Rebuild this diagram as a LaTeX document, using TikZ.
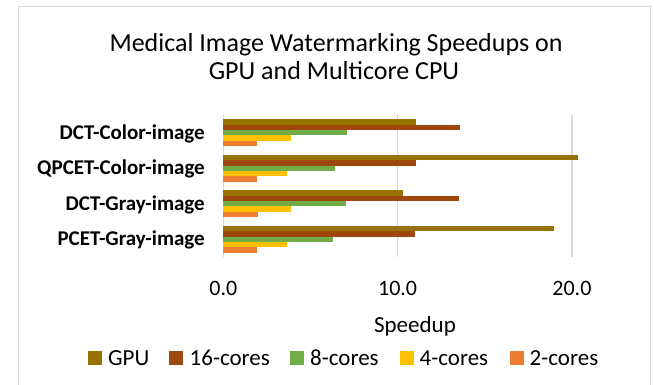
\documentclass[tikz,border=0pt]{standalone}
\usepackage{fontspec}
\setmainfont{Carlito}
\definecolor{gpu}{HTML}{997300}
\definecolor{c16}{HTML}{9E480E}
\definecolor{c8}{HTML}{70AD47}
\definecolor{c4}{HTML}{FFC000}
\definecolor{c2}{HTML}{ED7D31}
\definecolor{gridgray}{HTML}{D9D9D9}
% one group of five bars: #1 = category index (0 = top), #2..#6 = values
\newcommand\bargroup[6]{%
  \foreach \v/\c [count=\k from 0] in {#2/gpu,#3/c16,#4/c8,#5/c4,#6/c2}{%
    \fill[\c] (\xzero,{115+35.5*#1+4.4+5.35*\k}) rectangle
      ({\xzero+\xunit*\v},{115+35.5*#1+4.4+5.35*(\k+1)});
  }%
}
\begin{document}
\begin{tikzpicture}[x=1pt,y=-1pt,
  catlabel/.style={anchor=base east,inner sep=0pt,font=\fontsize{21}{24}\selectfont\bfseries},
  ticklabel/.style={anchor=base,inner sep=0pt,font=\fontsize{22}{26}\selectfont},
  titletext/.style={anchor=base,inner sep=0pt,font=\fontsize{26}{30}\selectfont},
  legtext/.style={anchor=base west,inner sep=0pt,font=\fontsize{23}{26}\selectfont},
  legsq/.style={minimum size=13.5pt,inner sep=0pt,anchor=south west},
  gridline/.style={gridgray,line width=1.2pt}]
\pgfmathsetmacro\xzero{223.3}
\pgfmathsetmacro\xunit{17.43}
\useasboundingbox (0,0) rectangle (654,385);
\fill[white] (0,0) rectangle (654,385);
% chart frame
\draw[gridgray,line width=1pt] (18,400) -- (18,7) -- (650,7) -- (650,400);
% title
\node[titletext] (title1) at (336,52) {Medical Image Watermarking Speedups on};
\node[titletext] (title2) at (334,79.5) {GPU and Multicore CPU};
% vertical gridlines
\foreach \g [count=\n] in {0,10,20}{
  \draw[gridline] ({\xzero+\xunit*\g},115) -- ({\xzero+\xunit*\g},257);
}
% bars
\bargroup{0}{11.06}{13.6}{7.11}{3.88}{1.93}
\bargroup{1}{20.37}{11.06}{6.39}{3.67}{1.93}
\bargroup{2}{10.29}{13.52}{7.04}{3.88}{1.97}
\bargroup{3}{18.96}{11.02}{6.31}{3.67}{1.93}
% category labels
\node[catlabel] (cat1) at (205,139.5) {DCT-Color-image};
\node[catlabel] (cat2) at (205,175) {QPCET-Color-image};
\node[catlabel] (cat3) at (205,210.5) {DCT-Gray-image};
\node[catlabel] (cat4) at (205,246) {PCET-Gray-image};
% axis tick labels and title
\node[ticklabel] (t0) at (223.3,295.5) {0.0};
\node[ticklabel] (t10) at (397.6,295.5) {10.0};
\node[ticklabel] (t20) at (571.9,295.5) {20.0};
\node[ticklabel,font=\fontsize{23}{26}\selectfont] (xtitle) at (415,332) {Speedup};
% legend
\node[legsq,fill=gpu] (sq1) at (88,365) {};
\node[legtext] (lg1) at (108,365) {GPU};
\node[legsq,fill=c16] (sq2) at (169,365) {};
\node[legtext] (lg2) at (189.5,365) {16-cores};
\node[legsq,fill=c8] (sq3) at (290,365) {};
\node[legtext] (lg3) at (310,365) {8-cores};
\node[legsq,fill=c4] (sq4) at (400,365) {};
\node[legtext] (lg4) at (419.5,365) {4-cores};
\node[legsq,fill=c2] (sq5) at (510,365) {};
\node[legtext] (lg5) at (529.5,365) {2-cores};
\end{tikzpicture}
\end{document}
